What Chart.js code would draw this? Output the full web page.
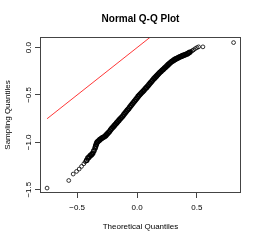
<!DOCTYPE html>
<html>
<head>
<meta charset="utf-8">
<script src="https://cdn.jsdelivr.net/npm/chart.js@4.4.1/dist/chart.umd.min.js"></script>
<style>
  html, body { margin: 0; padding: 0; background: #fff; }
  canvas { display: block; }
</style>
</head>
<body>
<canvas id="qq" width="261" height="241"></canvas>
<script>
// theoretical (x) vs sampling (y) quantiles
// dense middle part, where the circles overlap into a solid band
const bandX = [
  -0.42, -0.41, -0.40, -0.39, -0.38, -0.37, -0.36, -0.35, -0.345, -0.34, -0.335, -0.33,
  -0.32, -0.31, -0.30, -0.29, -0.28, -0.27, -0.26, -0.25, -0.24, -0.23,
  -0.22, -0.21, -0.20, -0.19, -0.18, -0.17, -0.16, -0.15, -0.14, -0.13,
  -0.12, -0.11, -0.10, -0.09, -0.08, -0.07, -0.06, -0.05, -0.04, -0.03,
  -0.02, -0.01, 0.00, 0.01, 0.02, 0.03, 0.04, 0.05, 0.06, 0.07,
  0.08, 0.09, 0.10, 0.11, 0.12, 0.13, 0.14, 0.15, 0.16, 0.17,
  0.18, 0.19, 0.20, 0.21, 0.22, 0.23, 0.24, 0.25, 0.26, 0.27,
  0.28, 0.29, 0.30, 0.31, 0.32, 0.33, 0.34, 0.35, 0.36, 0.37,
  0.38, 0.39, 0.40, 0.41, 0.42, 0.43, 0.44
];
const bandY = [
  -1.19, -1.165, -1.155, -1.14, -1.13, -1.115, -1.09, -1.06, -1.04, -1.02, -1.005, -0.995,
  -0.983, -0.972, -0.962, -0.953, -0.946, -0.938, -0.927, -0.913, -0.90, -0.885,
  -0.868, -0.852, -0.838, -0.824, -0.81, -0.795, -0.78, -0.766, -0.752, -0.738,
  -0.724, -0.707, -0.69, -0.675, -0.66, -0.645, -0.628, -0.612, -0.596, -0.58,
  -0.565, -0.548, -0.532, -0.515, -0.50, -0.487, -0.474, -0.46, -0.447, -0.433,
  -0.42, -0.405, -0.39, -0.374, -0.36, -0.345, -0.33, -0.317, -0.304, -0.29,
  -0.277, -0.264, -0.252, -0.24, -0.228, -0.216, -0.204, -0.192, -0.18, -0.168,
  -0.157, -0.147, -0.138, -0.13, -0.122, -0.115, -0.109, -0.103, -0.097, -0.091,
  -0.085, -0.08, -0.075, -0.07, -0.065, -0.058, -0.05
];
// sparse tails, single circles
const tailX = [
  -0.751, -0.570, -0.533, -0.505, -0.483, -0.463, -0.444, -0.432,
  0.452, 0.462, 0.472, 0.486, 0.500, 0.514, 0.550, 0.806
];
const tailY = [
  -1.483, -1.403, -1.335, -1.307, -1.282, -1.254, -1.226, -1.205,
  -0.04, -0.032, -0.024, -0.011, 0.0, 0.008, 0.008, 0.053
];
// red reference line y = x
const lineX = [-0.751, 0.806];
const lineY = [-0.751, 0.806];

const xTicks = [-0.5, 0.0, 0.5];
const yTicks = [-1.5, -1.0, -0.5, 0.0];
const xLabels = ['\u22120.5', '0.0', '0.5'];
const yLabels = ['\u22121.5', '\u22121.0', '\u22120.5', '0.0'];

const FONT = '"Liberation Sans", Arial, Helvetica, sans-serif';
const AXIS_COLOR = '#444';

const toPoints = (xs, ys) => xs.map((x, i) => ({ x: x, y: ys[i] }));

const rLabels = {
  id: 'rLabels',
  afterDraw(chart) {
    const { ctx, chartArea: a, scales } = chart;
    ctx.save();
    // plot box
    ctx.strokeStyle = AXIS_COLOR;
    ctx.lineWidth = 1;
    ctx.strokeRect(a.left + 0.5, a.top + 0.5, a.right - a.left - 1, a.bottom - a.top - 1);

    ctx.fillStyle = '#000';
    ctx.textAlign = 'center';
    ctx.textBaseline = 'middle';

    // title
    ctx.font = 'bold 10px ' + FONT;
    ctx.fillText('Normal Q-Q Plot', (a.left + a.right) / 2, 19);

    // x tick labels and title
    ctx.font = '8px ' + FONT;
    xTicks.forEach((v, i) => {
      ctx.fillText(xLabels[i], scales.x.getPixelForValue(v), 207.5);
    });
    ctx.fillText('Theoretical Quantiles', (a.left + a.right) / 2, 227);

    // y tick labels (rotated like R) and title
    yTicks.forEach((v, i) => {
      ctx.save();
      ctx.translate(28.5, scales.y.getPixelForValue(v));
      ctx.rotate(-Math.PI / 2);
      ctx.fillText(yLabels[i], 0, 0);
      ctx.restore();
    });
    ctx.save();
    ctx.translate(7.5, (a.top + a.bottom) / 2);
    ctx.rotate(-Math.PI / 2);
    ctx.fillText('Sampling Quantiles', 0, 0);
    ctx.restore();

    ctx.restore();
  }
};

new Chart(document.getElementById('qq'), {
  type: 'scatter',
  data: {
    datasets: [
      {
        label: 'band',
        data: toPoints(bandX, bandY),
        pointStyle: 'circle',
        pointRadius: 2.1,
        pointBorderWidth: 1.4,
        borderColor: '#000',
        backgroundColor: 'rgba(0,0,0,0)'
      },
      {
        label: 'tails',
        data: toPoints(tailX, tailY),
        pointStyle: 'circle',
        pointRadius: 1.9,
        pointBorderWidth: 0.8,
        borderColor: '#000',
        backgroundColor: 'rgba(0,0,0,0)'
      },
      {
        label: 'line',
        type: 'line',
        data: toPoints(lineX, lineY),
        borderColor: '#ff2020',
        borderWidth: 0.9,
        pointRadius: 0,
        fill: false
      }
    ]
  },
  options: {
    responsive: false,
    animation: false,
    events: [],
    layout: { padding: { top: 37, right: 20, left: 0, bottom: 0 } },
    plugins: {
      legend: { display: false },
      tooltip: { enabled: false },
      title: { display: false }
    },
    scales: {
      x: {
        type: 'linear',
        min: -0.81,
        max: 0.868,
        afterBuildTicks: (s) => { s.ticks = xTicks.map(v => ({ value: v })); },
        afterFit: (s) => { s.height = 48; },
        grid: { drawOnChartArea: false, drawTicks: true, tickLength: 5, color: AXIS_COLOR },
        border: { display: false },
        ticks: { display: false }
      },
      y: {
        type: 'linear',
        min: -1.535,
        max: 0.112,
        afterBuildTicks: (s) => { s.ticks = yTicks.map(v => ({ value: v })); },
        afterFit: (s) => { s.width = 40; },
        grid: { drawOnChartArea: false, drawTicks: true, tickLength: 5, color: AXIS_COLOR },
        border: { display: false },
        ticks: { display: false }
      }
    }
  },
  plugins: [rLabels]
});
</script>
</body>
</html>
